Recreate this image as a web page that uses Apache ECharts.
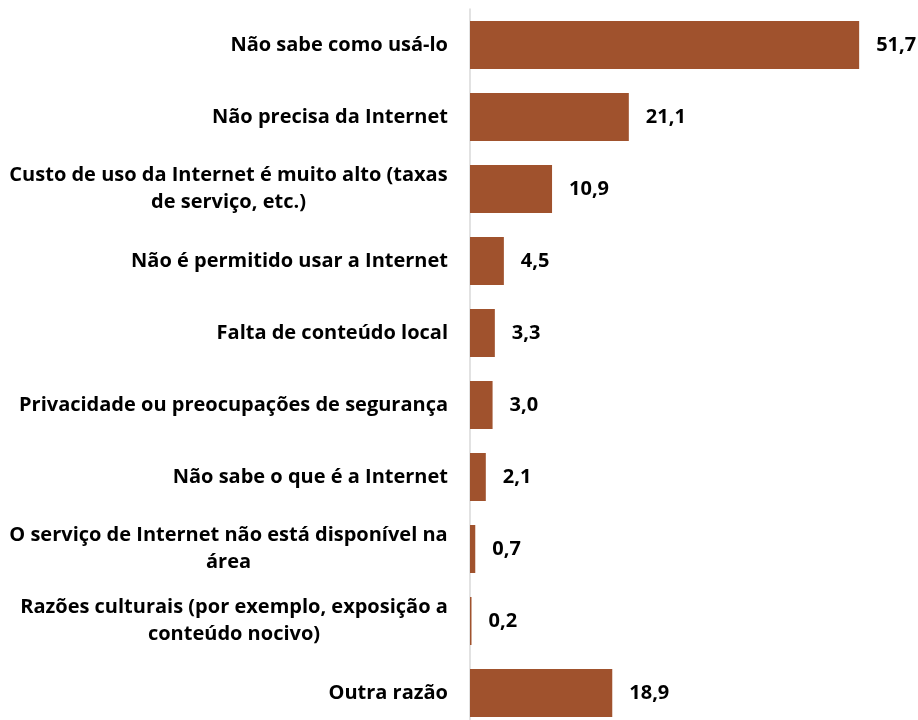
<!DOCTYPE html>
<html>
<head>
<meta charset="utf-8">
<script src="https://cdn.jsdelivr.net/npm/echarts@6/dist/echarts.min.js"></script>
<style>
  html, body { margin: 0; padding: 0; background: #ffffff; }
  #chart { width: 918px; height: 720px; }
</style>
</head>
<body>
<div id="chart"></div>
<script>
// motivos para não usar a Internet (%)
const categories = [
  'Não sabe como usá-lo',
  'Não precisa da Internet',
  'Custo de uso da Internet é muito alto (taxas\nde serviço, etc.)',
  'Não é permitido usar a Internet',
  'Falta de conteúdo local',
  'Privacidade ou preocupações de segurança',
  'Não sabe o que é a Internet',
  'O serviço de Internet não está disponível na\nárea',
  'Razões culturais (por exemplo, exposição a\nconteúdo nocivo)',
  'Outra razão'
];
const values = [51.7, 21.1, 10.9, 4.5, 3.3, 3.0, 2.1, 0.7, 0.2, 18.9];

const FONT = 'Open Sans';
const FSIZE = 20;

// measure lines so that multi-line labels are centred inside their block
const ctx = document.createElement('canvas').getContext('2d');
ctx.font = 'bold ' + FSIZE + 'px "' + FONT + '"';

function blockWidth(txt) {
  const lines = txt.split('\n');
  return Math.ceil(Math.max.apply(null, lines.map(l => ctx.measureText(l).width)));
}

function fmtLabel(txt) {
  const lines = txt.split('\n');
  if (lines.length === 1) return txt;
  const w = blockWidth(txt);
  return lines.map(l => '{c' + w + '|' + l + '}').join('\n');
}

const rich = {};
categories.forEach(c => {
  if (c.indexOf('\n') >= 0) {
    const w = blockWidth(c);
    rich['c' + w] = { width: w, align: 'center', fontFamily: FONT, fontWeight: 'bold', fontSize: FSIZE, color: '#000', lineHeight: 27 };
  }
});

const myChart = echarts.init(document.getElementById('chart'));
myChart.setOption({
  animation: false,
  grid: { left: 470, right: 34, top: 9, height: 720, outerBoundsMode: 'none', containLabel: false },
  xAxis: {
    type: 'value',
    min: 0,
    max: 55,
    show: false
  },
  yAxis: {
    type: 'category',
    inverse: true,
    data: categories,
    axisTick: { show: false },
    axisLine: { lineStyle: { color: '#d9d9d9', width: 1.5 } },
    axisLabel: {
      margin: 22,
      fontFamily: FONT,
      fontWeight: 'bold',
      fontSize: FSIZE,
      color: '#000',
      lineHeight: 27,
      formatter: fmtLabel,
      rich: rich
    }
  },
  series: [
    {
      type: 'bar',
      data: values,
      barWidth: 48,
      itemStyle: { color: '#a0522d' },
      label: {
        show: true,
        position: 'right',
        distance: 17,
        fontFamily: FONT,
        fontWeight: 'bold',
        fontSize: FSIZE,
        color: '#000',
        formatter: p => p.value.toFixed(1).replace('.', ',')
      }
    }
  ]
});
</script>
</body>
</html>
